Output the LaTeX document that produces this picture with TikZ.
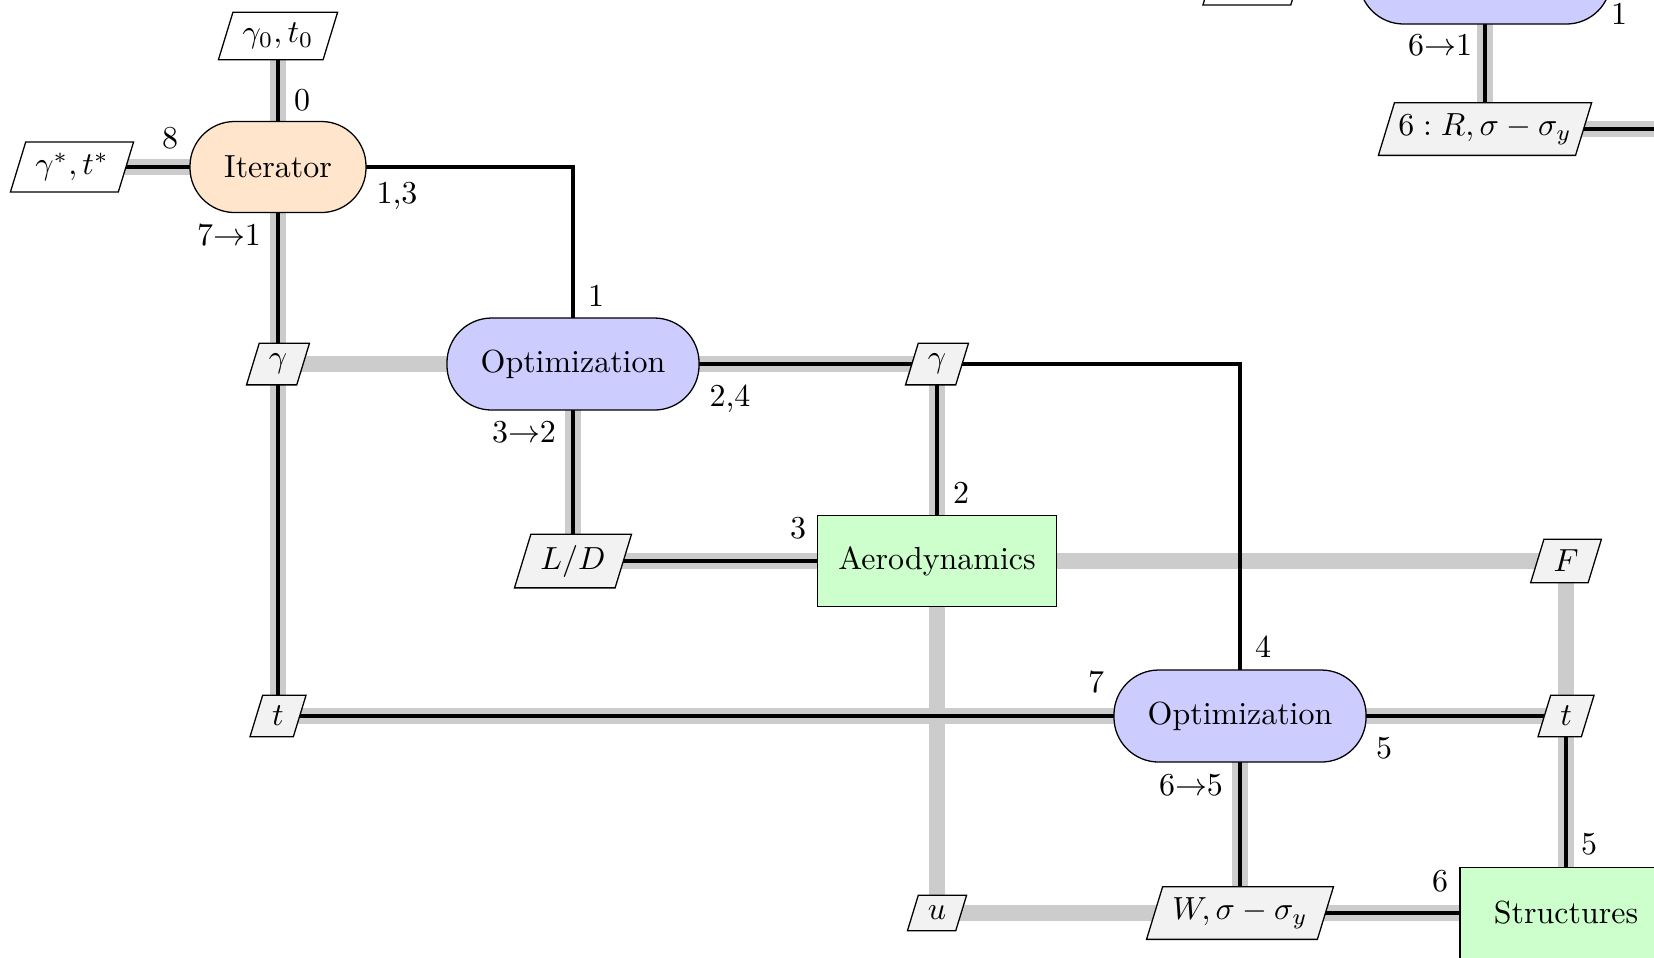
\documentclass[tikz,border=0pt]{standalone}
\usetikzlibrary{shapes.geometric}
\pgfdeclarelayer{data}
\pgfdeclarelayer{proc}
\pgfsetlayers{data,proc,main}
\tikzset{
  mdabox/.style={draw=black, fill=orange!20, rounded corners=14pt, minimum width=55.1pt, minimum height=28.5pt, inner sep=0pt},
  optbox/.style={draw=black, fill=blue!20, rounded corners=14pt, minimum width=78.9pt, minimum height=28.8pt, inner sep=0pt},
  funcbox/.style={draw=black, fill=green!20, minimum height=28.5pt, inner sep=0pt},
  datab/.style={draw=black, fill=black!5, trapezium, trapezium left angle=73, trapezium right angle=107, inner xsep=3pt, inner ysep=3.4pt},
  iob/.style={datab, fill=white},
  dataline/.style={draw=black!20, line width=5pt},
  procline/.style={draw=black, line width=1pt},
  lab/.style={inner sep=0pt},
}
\begin{document}
\begin{tikzpicture}[x=0.313pt, y=-0.313pt]
\useasboundingbox (0,0) rectangle (1654,957);
% nodes
\node[iob] (io0) at (278,36) {$\gamma_0, t_0$};
\node[iob] (ios) at (72,167) {$\gamma^*, t^*$};
\node[iob] (iot) at (1254,-18.5) {\phantom{\rule{17pt}{7.9pt}}};
\node[mdabox] (it) at (278,167) {Iterator};
\node[datab] (gL) at (278,364) {$\gamma$};
\node[optbox] (opt1) at (573,364) {Optimization};
\node[datab] (gM) at (937,364) {$\gamma$};
\node[datab] (LD) at (573,561) {$L/D$};
\node[funcbox, minimum width=74.8pt] (aero) at (937,561) {Aerodynamics};
\node[datab] (F) at (1566,561) {$F$};
\node[datab] (tL) at (278,716) {$t$};
\node[optbox] (opt2) at (1240,716) {Optimization};
\node[datab] (tR) at (1566,716) {$t$};
\node[datab] (u) at (937,913) {$u$};
\node[datab] (W) at (1240,913) {$W, \sigma - \sigma_y$};
\node[funcbox, minimum width=66.4pt] (str) at (1566,913) {Structures};
\node[optbox] (optT) at (1485,-22) {Optimization};
\node[datab, inner xsep=1.2pt] (R6) at (1485,129) {$6: R, \sigma - \sigma_y$};
\coordinate (Rend) at (1720,129);
% data lines
\begin{pgfonlayer}{data}
\draw[dataline] (io0.center) -- (it.center);
\draw[dataline] (it.center) -- (ios.center);
\draw[dataline] (it.center) -- (gL.center);
\draw[dataline] (gL.center) -- (tL.center);
\draw[dataline] (gL.center) -- (opt1.center);
\draw[dataline] (opt1.center) -- (gM.center);
\draw[dataline] (gM.center) -- (aero.center);
\draw[dataline] (opt1.center) -- (LD.center);
\draw[dataline] (LD.center) -- (aero.center);
\draw[dataline] (aero.center) -- (F.center);
\draw[dataline] (F.center) -- (tR.center);
\draw[dataline] (aero.center) -- (u.center);
\draw[dataline] (u.center) -- (W.center);
\draw[dataline] (tL.center) -- (opt2.center);
\draw[dataline] (opt2.center) -- (tR.center);
\draw[dataline] (tR.center) -- (str.center);
\draw[dataline] (opt2.center) -- (W.center);
\draw[dataline] (W.center) -- (str.center);
\draw[dataline] (optT.center) -- (R6.center);
\draw[dataline] (R6.center) -- (Rend);
\end{pgfonlayer}
% process lines
\begin{pgfonlayer}{proc}
\draw[procline] (io0.center) -- (it.center);
\draw[procline] (it.center) -- (ios.center);
\draw[procline] (it.center) -| (opt1.center);
\draw[procline] (it.center) -- (gL.center);
\draw[procline] (gL.center) -- (tL.center);
\draw[procline] (opt1.center) -- (gM.center);
\draw[procline] (gM.center) -| (opt2.center);
\draw[procline] (gM.center) -- (aero.center);
\draw[procline] (opt1.center) -- (LD.center);
\draw[procline] (LD.center) -- (aero.center);
\draw[procline] (tL.center) -- (opt2.center);
\draw[procline] (opt2.center) -- (tR.center);
\draw[procline] (tR.center) -- (str.center);
\draw[procline] (opt2.center) -- (W.center);
\draw[procline] (W.center) -- (str.center);
\draw[procline] (optT.center) -- (R6.center);
\draw[procline] (R6.center) -- (Rend);
\end{pgfonlayer}
% labels
\node[lab] (l0) at (302,100) {0};
\node[lab] (l8) at (170,138) {8};
\node[lab] (l13) at (397,196) {1,3};
\node[lab] (l71) at (229,235) {7$\rightarrow$1};
\node[lab] (l1) at (596,296) {1};
\node[lab] (l24) at (730,399) {2,4};
\node[lab] (l32) at (524,432) {3$\rightarrow$2};
\node[lab] (l2) at (961,493) {2};
\node[lab] (l3) at (798,528) {3};
\node[lab] (l4) at (1263,647) {4};
\node[lab] (l7) at (1096,682) {7};
\node[lab] (l5a) at (1384,748) {5};
\node[lab] (l65) at (1191,785) {6$\rightarrow$5};
\node[lab] (l5b) at (1589,844) {5};
\node[lab] (l6) at (1440,881) {6};
\node[lab] (l61) at (1440,45) {6$\rightarrow$1};
\node[lab] (l1t) at (1619,14) {1};
\end{tikzpicture}
\end{document}
